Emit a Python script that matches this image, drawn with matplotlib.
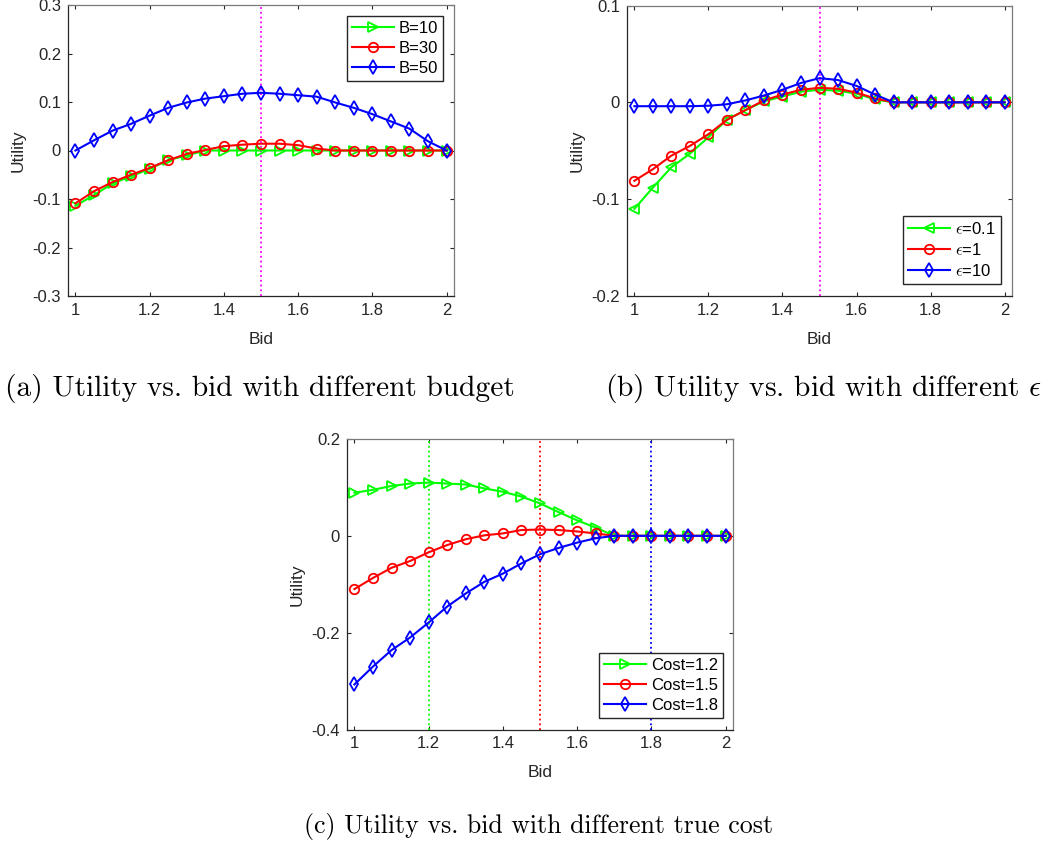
import numpy as np
import matplotlib
matplotlib.use("Agg")
import matplotlib.pyplot as plt

plt.rcParams['font.family'] = ['Liberation Sans', 'DejaVu Sans']
plt.rcParams['mathtext.fontset'] = 'cm'

# Bid grid shared by every panel
bids = [1.00, 1.05, 1.10, 1.15, 1.20, 1.25, 1.30, 1.35, 1.40, 1.45, 1.50,
        1.55, 1.60, 1.65, 1.70, 1.75, 1.80, 1.85, 1.90, 1.95, 2.00]

# (a) different budget
util_b10 = [-0.114, -0.092, -0.068, -0.053, -0.038, -0.020, -0.010, 0.000, 0.000, 0.000, 0.000,
            0.000, 0.000, 0.000, 0.000, 0.000, 0.000, 0.000, 0.000, 0.000, 0.000]
util_b30 = [-0.109, -0.084, -0.065, -0.050, -0.036, -0.020, -0.007, 0.001, 0.009, 0.012, 0.014,
            0.014, 0.011, 0.004, 0.000, 0.000, 0.000, 0.000, 0.000, 0.000, 0.000]
util_b50 = [0.000, 0.021, 0.041, 0.055, 0.072, 0.088, 0.099, 0.107, 0.112, 0.117, 0.119,
            0.117, 0.114, 0.111, 0.099, 0.088, 0.075, 0.060, 0.045, 0.019, 0.000]

# (b) different epsilon
util_e01 = [-0.110, -0.088, -0.067, -0.053, -0.036, -0.018, -0.008, 0.001, 0.006, 0.011, 0.013,
            0.012, 0.009, 0.003, 0.000, 0.000, 0.000, 0.000, 0.000, 0.000, 0.000]
util_e1 = [-0.081, -0.069, -0.055, -0.045, -0.033, -0.018, -0.008, 0.002, 0.008, 0.013, 0.015,
           0.014, 0.010, 0.004, 0.000, 0.000, 0.000, 0.000, 0.000, 0.000, 0.000]
util_e10 = [-0.004, -0.004, -0.004, -0.004, -0.0035, -0.002, 0.002, 0.007, 0.013, 0.020, 0.025,
            0.023, 0.017, 0.008, 0.000, 0.000, 0.000, 0.000, 0.000, 0.000, 0.000]

# (c) different true cost
util_c12 = [0.089, 0.095, 0.103, 0.108, 0.110, 0.108, 0.106, 0.098, 0.091, 0.081, 0.067,
            0.049, 0.032, 0.017, 0.000, 0.000, 0.000, 0.000, 0.000, 0.000, 0.000]
util_c15 = [-0.110, -0.087, -0.066, -0.052, -0.034, -0.019, -0.007, 0.001, 0.005, 0.012, 0.013,
            0.012, 0.009, 0.005, 0.000, 0.000, 0.000, 0.000, 0.000, 0.000, 0.000]
util_c18 = [-0.307, -0.270, -0.236, -0.210, -0.179, -0.146, -0.119, -0.095, -0.078, -0.057, -0.038,
            -0.025, -0.014, -0.005, 0.000, 0.000, 0.000, 0.000, 0.000, 0.000, 0.000]

xticks = [1, 1.2, 1.4, 1.6, 1.8, 2]
xticklabels = ['1', '1.2', '1.4', '1.6', '1.8', '2']
yticks_a = [-0.3, -0.2, -0.1, 0, 0.1, 0.2, 0.3]
yticklabels_a = ['-0.3', '-0.2', '-0.1', '0', '0.1', '0.2', '0.3']
yticks_b = [-0.2, -0.1, 0, 0.1]
yticklabels_b = ['-0.2', '-0.1', '0', '0.1']
yticks_c = [-0.4, -0.2, 0, 0.2]
yticklabels_c = ['-0.4', '-0.2', '0', '0.2']

labels_a = ['B=10', 'B=30', 'B=50']
labels_b = [r'$\epsilon$=0.1', r'$\epsilon$=1', r'$\epsilon$=10']
labels_c = ['Cost=1.2', 'Cost=1.5', 'Cost=1.8']
true_costs = [1.2, 1.5, 1.8]
truthful_bid = 1.5

captions = ['(a) Utility vs. bid with different budget',
            r'(b) Utility vs. bid with different $\epsilon$',
            '(c) Utility vs. bid with different true cost']

W, H = 1047, 843
fig = plt.figure(figsize=(W / 100, H / 100), dpi=100)
fig.patch.set_facecolor('white')


def rect(l, t, r, b):
    return [l / W, 1 - b / H, (r - l) / W, (b - t) / H]


def style(ax, yticks, yticklabels, ylim):
    ax.set_xlim(0.98, 2.02)
    ax.set_ylim(*ylim)
    ax.set_xticks(xticks)
    ax.set_xticklabels(xticklabels)
    ax.set_yticks(yticks)
    ax.set_yticklabels(yticklabels)
    ax.tick_params(direction='in', length=3, width=0.8, top=True, right=True,
                   labelsize=12, colors='#262626', pad=5)
    for s in ('left', 'bottom'):
        ax.spines[s].set_color('#262626')
    for s in ('top', 'right'):
        ax.spines[s].set_color('#7a7a7a')
    for s in ax.spines.values():
        s.set_linewidth(0.9)
    ax.set_xlabel('Bid', fontsize=12.5, color='#262626', labelpad=10)
    ax.set_ylabel('Utility', fontsize=12.5, color='#262626', labelpad=5)


line_kw = dict(linewidth=1.5, markersize=6.8, markerfacecolor='none', markeredgewidth=1.3)
colors = [(0, 1, 0), (1, 0, 0), (0, 0, 1)]
leg_kw = dict(borderaxespad=0, fontsize=12, fancybox=False, framealpha=1, edgecolor='#262626',
              numpoints=1, handlelength=2.5, labelspacing=0.3, handletextpad=0.3, borderpad=0.3)

# (a)
ax = fig.add_axes(rect(68, 5, 454, 296))
ax.axvline(truthful_bid, color=(1, 0, 1), linestyle=':', linewidth=1.3)
for y, m, c, lab in zip([util_b10, util_b30, util_b50], ['>', 'o', 'd'], colors, labels_a):
    ax.plot(bids, y, marker=m, color=c, label=lab, **line_kw)
style(ax, yticks_a, yticklabels_a, (-0.3, 0.3))
ax.legend(loc='upper right', bbox_to_anchor=(0.9715, 0.962), **leg_kw)

# (b)
ax = fig.add_axes(rect(627, 5.5, 1012, 296))
ax.axvline(truthful_bid, color=(1, 0, 1), linestyle=':', linewidth=1.3)
for y, m, c, lab in zip([util_e01, util_e1, util_e10], ['<', 'o', 'd'], colors, labels_b):
    ax.plot(bids, y, marker=m, color=c, label=lab, **line_kw)
style(ax, yticks_b, yticklabels_b, (-0.2, 0.1))
ax.legend(loc='lower right', bbox_to_anchor=(0.971, 0.041), **leg_kw)

# (c)
ax = fig.add_axes(rect(347, 439, 733, 729.5))
for xc, c in zip(true_costs, colors):
    ax.axvline(xc, color=c, linestyle=':', linewidth=1.3)
for y, m, c, lab in zip([util_c12, util_c15, util_c18], ['>', 'o', 'd'], colors, labels_c):
    ax.plot(bids, y, marker=m, color=c, label=lab, **line_kw)
style(ax, yticks_c, yticklabels_c, (-0.4, 0.2))
ax.legend(loc='lower right', bbox_to_anchor=(0.974, 0.04), **leg_kw)

# Captions
cap_kw = dict(family='cmr10', ha='center', va='center', color='black')
fig.text(260 / W, 1 - 388 / H, captions[0], fontsize=21.2, **cap_kw)
fig.text(824 / W, 1 - 388 / H, captions[1], fontsize=21.2, **cap_kw)
fig.text(539 / W, 1 - 826 / H, captions[2], fontsize=18.6, **cap_kw)

fig.savefig('out.png', dpi=100, facecolor='white')
